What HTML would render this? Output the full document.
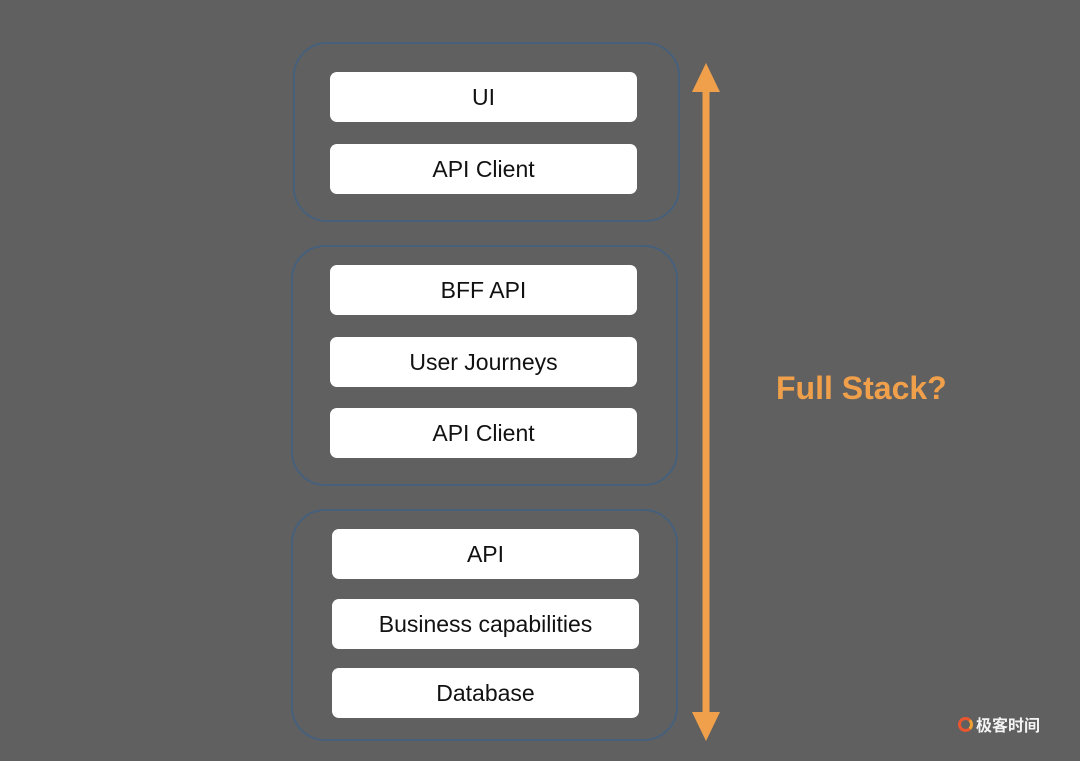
<!DOCTYPE html>
<html><head><meta charset="utf-8"><style>
html,body{margin:0;padding:0;}
body{width:1080px;height:761px;background:#606060;position:relative;overflow:hidden;font-family:"Liberation Sans","Noto Sans CJK SC",sans-serif;}
.g{position:absolute;border:2px solid #46607c;border-radius:34px;box-sizing:border-box;}
.b{position:absolute;background:#fff;border-radius:7px;height:50px;width:307px;display:flex;align-items:center;justify-content:center;font-size:23px;color:#111;}
.t{position:absolute;left:776px;top:370px;font-size:32px;font-weight:bold;color:#f0a04a;letter-spacing:0px;}
.logo{position:absolute;left:958px;top:712px;font-size:16px;color:#f4f4f4;font-weight:bold;display:flex;align-items:center;gap:3px;}
.dot{width:15px;height:15px;border-radius:50%;border:3.5px solid #e9552e;box-sizing:border-box;border-right-color:#f2a030;}
</style></head><body>
<div class="g" style="left:293px;top:42px;width:387px;height:180px;"></div>
<div class="g" style="left:291px;top:245px;width:387px;height:241px;"></div>
<div class="g" style="left:291px;top:509px;width:387px;height:232px;"></div>
<div class="b" style="left:330px;top:72px;">UI</div>
<div class="b" style="left:330px;top:144px;">API Client</div>
<div class="b" style="left:330px;top:265px;">BFF API</div>
<div class="b" style="left:330px;top:337px;">User Journeys</div>
<div class="b" style="left:330px;top:408px;">API Client</div>
<div class="b" style="left:332px;top:529px;">API</div>
<div class="b" style="left:332px;top:599px;">Business capabilities</div>
<div class="b" style="left:332px;top:668px;">Database</div>
<svg style="position:absolute;left:0;top:0" width="1080" height="761">
<rect x="702.5" y="88" width="7" height="628" fill="#f0a04a"/>
<polygon points="706,63 692,92 720,92" fill="#f0a04a"/>
<polygon points="706,741 692,712 720,712" fill="#f0a04a"/>
</svg>
<div class="t">Full Stack?</div>
<div class="logo"><span class="dot"></span>极客时间</div>
</body></html>
